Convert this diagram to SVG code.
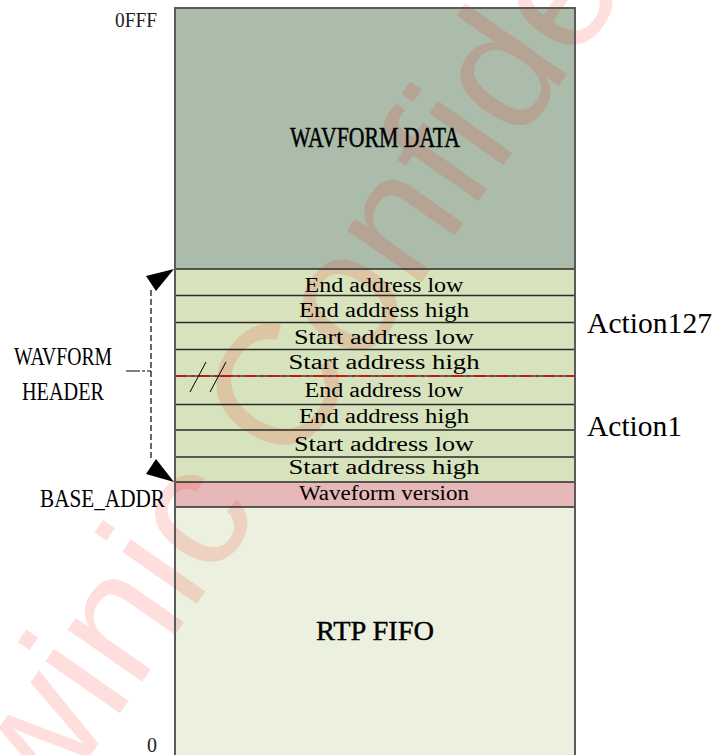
<svg xmlns="http://www.w3.org/2000/svg" width="716" height="755" viewBox="0 0 716 755">
  <style>
    .lbl { font-family: "Liberation Serif", "Noto Serif", serif; fill: #000; }
    .row { font-size: 20px; text-anchor: middle; }
    .big { font-size: 30px; stroke: #000; stroke-width: 0.5; }
    .side { font-size: 26px; }
    .addr { font-size: 20px; fill: #222; }
    .sep { stroke: #2b2b2b; stroke-width: 1.3; }
    .edge { stroke: #5a5a5a; stroke-width: 2; fill: none; }
    .hdr { fill: #d7e3bc; }
    .dash { stroke: #000; stroke-width: 1.2; stroke-dasharray: 6 3; fill: none; }
    .wm { font-family: "Liberation Sans", Arial, sans-serif; font-size: 172px; fill: #ff0000; fill-opacity: 0.13; }
  </style>

  <rect x="0" y="0" width="716" height="755" fill="#ffffff"/>

  <!-- memory column fills -->
  <g id="wavform-data">
    <rect x="175" y="8" width="400" height="261" fill="#abbdaa"/>
  </g>
  <g id="header-rows">
    <rect class="hdr" x="175" y="269" width="400" height="213"/>
  </g>
  <g id="waveform-version">
    <rect x="175" y="482" width="400" height="25" fill="#e6b8b7"/>
  </g>
  <g id="rtp-fifo">
    <rect x="175" y="507" width="400" height="248" fill="#ebf1de"/>
  </g>

  <!-- document watermark -->
  <text class="wm" transform="translate(-22 916) rotate(-55)" x="0" y="0">Awinic Confidential</text>

  <!-- row separators and column outline -->
  <g id="grid">
    <line class="sep" x1="175" y1="269" x2="575" y2="269"/>
    <line class="sep" x1="175" y1="295.5" x2="575" y2="295.5"/>
    <line class="sep" x1="175" y1="322.5" x2="575" y2="322.5"/>
    <line class="sep" x1="175" y1="349.5" x2="575" y2="349.5"/>
    <line x1="175" y1="376" x2="575" y2="376" stroke="#3a3a3a" stroke-width="1.6"/>
    <line x1="175" y1="376" x2="575" y2="376" stroke="#e00000" stroke-width="1.6" stroke-dasharray="12 4 3 4"/>
    <line class="sep" x1="175" y1="404.5" x2="575" y2="404.5"/>
    <line class="sep" x1="175" y1="430" x2="575" y2="430"/>
    <line class="sep" x1="175" y1="457" x2="575" y2="457"/>
    <line class="sep" x1="175" y1="482" x2="575" y2="482"/>
    <line class="sep" x1="175" y1="507" x2="575" y2="507"/>
    <path class="edge" d="M175 756 V8 H575 V756"/>
  </g>

  <!-- row labels -->
  <g id="action127">
    <text class="lbl row" x="384" y="292" textLength="159" lengthAdjust="spacingAndGlyphs">End address low</text>
    <text class="lbl row" x="384" y="317" textLength="170" lengthAdjust="spacingAndGlyphs">End address high</text>
    <text class="lbl row" x="384" y="343.5" textLength="180" lengthAdjust="spacingAndGlyphs">Start address low</text>
    <text class="lbl row" x="384" y="368.5" textLength="191" lengthAdjust="spacingAndGlyphs">Start address high</text>
  </g>
  <g id="action1">
    <text class="lbl row" x="384" y="397" textLength="159" lengthAdjust="spacingAndGlyphs">End address low</text>
    <text class="lbl row" x="384" y="423" textLength="170" lengthAdjust="spacingAndGlyphs">End address high</text>
    <text class="lbl row" x="384" y="450.5" textLength="180" lengthAdjust="spacingAndGlyphs">Start address low</text>
    <text class="lbl row" x="384" y="474" textLength="191" lengthAdjust="spacingAndGlyphs">Start address high</text>
  </g>
  <g id="version-label">
    <text class="lbl row" x="384" y="499.5" textLength="170" lengthAdjust="spacingAndGlyphs">Waveform version</text>
  </g>

  <!-- region titles -->
  <text class="lbl big" x="290" y="147" textLength="170" lengthAdjust="spacingAndGlyphs">WAVFORM DATA</text>
  <text class="lbl" x="316" y="640" font-size="28" stroke="#000" stroke-width="0.4" textLength="118" lengthAdjust="spacingAndGlyphs">RTP FIFO</text>

  <!-- side labels -->
  <text class="lbl" x="587" y="333" font-size="30" textLength="125" lengthAdjust="spacingAndGlyphs">Action127</text>
  <text class="lbl" x="587" y="436" font-size="30" textLength="95" lengthAdjust="spacingAndGlyphs">Action1</text>
  <text class="lbl" x="14" y="365" font-size="26" textLength="98" lengthAdjust="spacingAndGlyphs">WAVFORM</text>
  <text class="lbl" x="22" y="400" font-size="26" textLength="82" lengthAdjust="spacingAndGlyphs">HEADER</text>
  <text class="lbl side" x="40" y="506.5" textLength="125" lengthAdjust="spacingAndGlyphs">BASE_ADDR</text>
  <text class="lbl addr" x="115" y="27" textLength="42" lengthAdjust="spacingAndGlyphs">0FFF</text>
  <text class="lbl addr" x="147" y="752" textLength="10" lengthAdjust="spacingAndGlyphs">0</text>

  <!-- header span bracket and break marks -->
  <g id="connectors">
    <line class="dash" x1="151" y1="290" x2="151" y2="461"/>
    <polygon points="174,269 146,276 156,291" fill="#000"/>
    <polygon points="174,482 146,474 156,459" fill="#000"/>
    <line x1="126" y1="371" x2="151" y2="371" stroke="#000" stroke-width="1.2" stroke-dasharray="14 2 3 2"/>
    <line x1="206" y1="362" x2="190" y2="392" stroke="#000" stroke-width="1"/>
    <line x1="226" y1="362" x2="210" y2="392" stroke="#000" stroke-width="1"/>
  </g>
</svg>
